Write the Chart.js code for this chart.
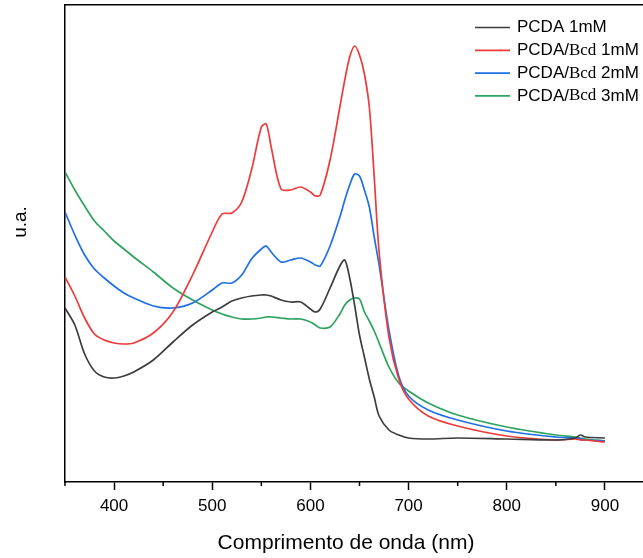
<!DOCTYPE html>
<html>
<head>
<meta charset="utf-8">
<script src="https://cdn.jsdelivr.net/npm/chart.js@4.4.1/dist/chart.umd.min.js"></script>
<style>
html,body{margin:0;padding:0;background:#fff;overflow:hidden;width:643px;height:558px}
#wrap{position:absolute;left:0;top:0;width:700px;height:558px}
</style>
</head>
<body>
<div id="wrap"><canvas id="c" width="700" height="558"></canvas></div>
<script>
// ---- data ----
const wavelengths = [350,360,370,380,390,400,410,420,440,460,480,500,510,520,530,540,550,555,560,570,580,590,600,605,610,620,630,635,640,645,650,655,660,665,670,680,690,700,720,750,800,850,870,875,880,900];
const pcda1mM  = [1.74,1.57,1.28,1.11,1.05,1.04,1.06,1.10,1.22,1.40,1.57,1.70,1.75,1.81,1.84,1.86,1.87,1.87,1.86,1.82,1.80,1.80,1.73,1.70,1.73,1.94,2.16,2.22,2.04,1.77,1.47,1.25,1.03,0.85,0.66,0.52,0.47,0.44,0.43,0.44,0.43,0.42,0.44,0.47,0.45,0.44];
const bcd1mM   = [2.05,1.86,1.64,1.48,1.42,1.39,1.38,1.39,1.49,1.70,2.07,2.50,2.68,2.69,2.80,3.12,3.55,3.58,3.35,2.93,2.92,2.95,2.90,2.86,2.87,3.22,3.75,4.02,4.25,4.36,4.27,4.08,3.75,3.05,2.30,1.45,1.03,0.83,0.66,0.56,0.46,0.42,0.43,0.42,0.42,0.40];
const bcd2mM   = [2.70,2.47,2.27,2.13,2.04,1.96,1.89,1.84,1.76,1.74,1.79,1.92,1.99,1.99,2.07,2.23,2.33,2.36,2.30,2.20,2.22,2.24,2.20,2.17,2.16,2.36,2.65,2.82,2.97,3.08,3.06,2.92,2.75,2.45,2.17,1.52,1.06,0.86,0.72,0.62,0.51,0.45,0.44,0.43,0.42,0.41];
const bcd3mM   = [3.10,2.92,2.76,2.61,2.51,2.41,2.33,2.25,2.10,1.94,1.82,1.72,1.68,1.65,1.63,1.63,1.64,1.65,1.65,1.64,1.63,1.63,1.60,1.57,1.54,1.55,1.68,1.77,1.82,1.84,1.83,1.70,1.61,1.51,1.39,1.15,0.99,0.91,0.79,0.67,0.55,0.47,0.45,0.44,0.43,0.41];
const seriesLabels = ['PCDA 1mM','PCDA/Bcd 1mM','PCDA/Bcd 2mM','PCDA/Bcd 3mM'];
const xTickValues = [400,500,600,700,800,900];
const xMinorTickValues = [350,450,550,650,750,850,950];
const xTitle = 'Comprimento de onda (nm)';
const yTitle = 'u.a.';

// ---- styling ----
const seriesValues = [pcda1mM, bcd1mM, bcd2mM, bcd3mM];
const colors = ['#3d3d3d','#ee3a3a','#1f6fe5','#2ea35e'];
const SANS = '"Liberation Sans", Arial, sans-serif';
const SERIF = '"Liberation Serif", "Times New Roman", serif';

const datasets = seriesLabels.map((label, i) => ({
  label,
  data: wavelengths.map((w, j) => ({x: w, y: seriesValues[i][j]})),
  borderColor: colors[i],
  backgroundColor: colors[i],
  borderWidth: 1.7,
  pointRadius: 0,
  fill: false,
  tension: 0.3
}));

const minorTicks = {
  id: 'minorTicks',
  afterDraw(chart) {
    const s = chart.scales.x, c = chart.ctx;
    c.save();
    c.strokeStyle = '#000'; c.lineWidth = 1.5;
    xMinorTickValues.forEach(v => {
      const p = s.getPixelForValue(v);
      c.beginPath(); c.moveTo(p, s.top); c.lineTo(p, s.top + 4); c.stroke();
    });
    c.restore();
  }
};

const axisTitles = {
  id: 'axisTitles',
  afterDraw(chart) {
    const c = chart.ctx;
    c.save();
    c.fillStyle = '#000';
    c.textAlign = 'center'; c.textBaseline = 'middle';
    c.font = '21px ' + SANS;
    c.fillText(xTitle, 346, 543);
    c.translate(21, 222);
    c.rotate(-Math.PI / 2);
    c.font = '19px ' + SANS;
    c.fillText(yTitle, 0, 0);
    c.restore();
  }
};

const customLegend = {
  id: 'customLegend',
  afterDraw(chart) {
    const c = chart.ctx;
    c.save();
    c.textBaseline = 'middle';
    chart.data.datasets.forEach((ds, i) => {
      const y = 27.5 + i * 22.8;
      c.strokeStyle = ds.borderColor; c.lineWidth = 1.7;
      c.beginPath(); c.moveTo(475, y); c.lineTo(510, y); c.stroke();
      c.fillStyle = '#000';
      let x = 517;
      const parts = ds.label.split(/(Bcd)/);
      parts.forEach(p => {
        if (!p) return;
        c.font = (p === 'Bcd' ? '17px ' + SERIF : '17px ' + SANS);
        c.fillText(p, x, y);
        x += c.measureText(p).width;
      });
    });
    c.restore();
  }
};

new Chart(document.getElementById('c'), {
  type: 'line',
  data: {datasets},
  options: {
    responsive: false,
    animation: false,
    devicePixelRatio: 1,
    layout: {padding: {left: 0, right: 46, top: 0, bottom: 0}},
    plugins: {legend: {display: false}, tooltip: {enabled: false}},
    scales: {
      x: {
        type: 'linear', position: 'bottom', min: 350, max: 950,
        afterBuildTicks: s => { s.ticks = xTickValues.map(v => ({value: v})); },
        ticks: {font: {family: SANS, size: 17}, color: '#000', padding: 6, maxRotation: 0, autoSkip: false},
        grid: {display: true, drawOnChartArea: false, drawTicks: true, tickLength: 8, tickColor: '#000', tickWidth: 1.5},
        border: {display: true, color: '#000', width: 1.5},
        afterFit: s => { s.height = 76; }
      },
      xTop: {
        type: 'linear', position: 'top', min: 350, max: 950,
        ticks: {display: false}, grid: {display: false},
        border: {display: true, color: '#000', width: 1.5},
        afterFit: s => { s.height = 5; }
      },
      y: {
        type: 'linear', position: 'left', min: 0, max: 4.77,
        ticks: {display: false}, grid: {display: false},
        border: {display: true, color: '#000', width: 1.5},
        afterFit: s => { s.width = 65; }
      }
    }
  },
  plugins: [minorTicks, axisTitles, customLegend]
});
</script>
</body>
</html>
